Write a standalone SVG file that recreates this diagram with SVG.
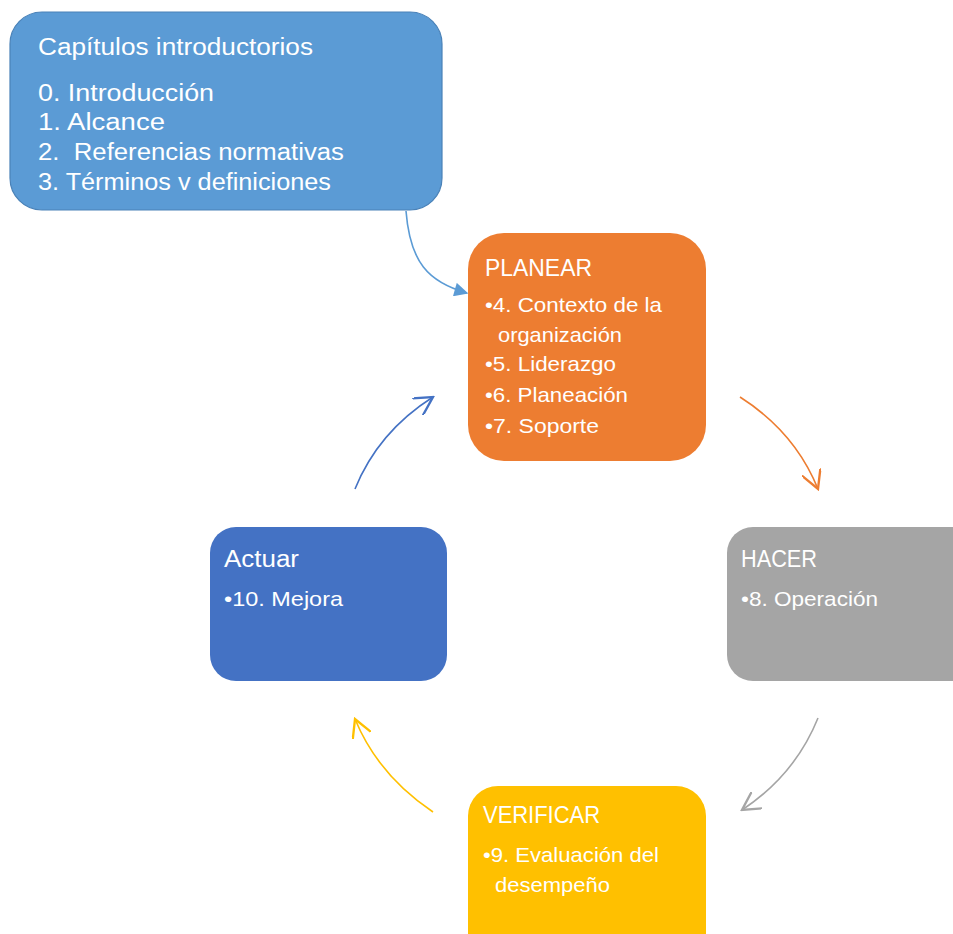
<svg xmlns="http://www.w3.org/2000/svg" width="953" height="934" viewBox="0 0 953 934">
  <defs>
    <style>
      .t { font-family: "Liberation Sans", "Noto Sans", sans-serif; fill: #ffffff; }
      .intro { font-size: 23px; }
      .h { font-size: 23px; }
      .b { font-size: 21px; }
      .link { fill: none; stroke-width: 1.6; }
    </style>
    <marker id="tri" viewBox="0 0 10 10" refX="9" refY="5" markerWidth="16" markerHeight="14" markerUnits="userSpaceOnUse" orient="auto">
      <path d="M0,0 L10,5 L0,10 z" fill="#5B9BD5"/>
    </marker>
    <marker id="vOrange" viewBox="0 0 12 12" refX="11" refY="6" markerWidth="20" markerHeight="20" markerUnits="userSpaceOnUse" orient="auto">
      <path d="M0,0 L11,6 L0,12" fill="none" stroke="#ED7D31" stroke-width="1.4"/>
    </marker>
    <marker id="vGray" viewBox="0 0 12 12" refX="11" refY="6" markerWidth="20" markerHeight="20" markerUnits="userSpaceOnUse" orient="auto">
      <path d="M0,0 L11,6 L0,12" fill="none" stroke="#A5A5A5" stroke-width="1.4"/>
    </marker>
    <marker id="vYellow" viewBox="0 0 12 12" refX="11" refY="6" markerWidth="20" markerHeight="20" markerUnits="userSpaceOnUse" orient="auto">
      <path d="M0,0 L11,6 L0,12" fill="none" stroke="#FFC000" stroke-width="1.4"/>
    </marker>
    <marker id="vBlue" viewBox="0 0 12 12" refX="11" refY="6" markerWidth="20" markerHeight="20" markerUnits="userSpaceOnUse" orient="auto">
      <path d="M0,0 L11,6 L0,12" fill="none" stroke="#4472C4" stroke-width="1.4"/>
    </marker>
  </defs>

  <rect width="953" height="934" fill="#ffffff"/>

  <!-- connectors -->
  <g id="connectors">
    <path class="link" stroke="#5B9BD5" d="M406,211 C410,262 428,282 467,293" marker-end="url(#tri)"/>
    <path class="link" stroke="#ED7D31" d="M740,397 Q795,432 818,489" marker-end="url(#vOrange)"/>
    <path class="link" stroke="#A5A5A5" d="M818,718 Q795,775 742,810" marker-end="url(#vGray)"/>
    <path class="link" stroke="#FFC000" d="M433,812 Q378,775 355,719" marker-end="url(#vYellow)"/>
    <path class="link" stroke="#4472C4" d="M355,489 Q378,432 433,397" marker-end="url(#vBlue)"/>
  </g>

  <!-- introductory chapters -->
  <g id="intro">
    <rect x="10" y="12" width="432" height="198" rx="32" fill="#5B9BD5" stroke="#4A82B8" stroke-width="1.2"/>
    <text class="t intro" x="38" y="55" textLength="275" lengthAdjust="spacingAndGlyphs">Capítulos introductorios</text>
    <text class="t intro" x="38" y="101" textLength="176" lengthAdjust="spacingAndGlyphs">0. Introducción</text>
    <text class="t intro" x="38" y="130" textLength="127" lengthAdjust="spacingAndGlyphs">1. Alcance</text>
    <text class="t intro" x="38" y="160" textLength="306" lengthAdjust="spacingAndGlyphs" xml:space="preserve">2.  Referencias normativas</text>
    <text class="t intro" x="38" y="190" textLength="293" lengthAdjust="spacingAndGlyphs">3. Términos v definiciones</text>
  </g>

  <!-- PLANEAR -->
  <g id="planear">
    <rect x="468" y="233" width="238" height="228" rx="36" fill="#ED7D31"/>
    <text class="t h" x="485" y="276" textLength="107" lengthAdjust="spacingAndGlyphs">PLANEAR</text>
    <text class="t b" x="485" y="312" textLength="177" lengthAdjust="spacingAndGlyphs">•4. Contexto de la</text>
    <text class="t b" x="498" y="342" textLength="124" lengthAdjust="spacingAndGlyphs">organización</text>
    <text class="t b" x="485" y="371" textLength="131" lengthAdjust="spacingAndGlyphs">•5. Liderazgo</text>
    <text class="t b" x="485" y="402" textLength="143" lengthAdjust="spacingAndGlyphs">•6. Planeación</text>
    <text class="t b" x="485" y="433" textLength="114" lengthAdjust="spacingAndGlyphs">•7. Soporte</text>
  </g>

  <!-- HACER -->
  <g id="hacer">
    <rect x="727" y="527" width="260" height="154" rx="26" fill="#A5A5A5"/>
    <text class="t h" x="741" y="567" textLength="76" lengthAdjust="spacingAndGlyphs">HACER</text>
    <text class="t b" x="741" y="606" textLength="137" lengthAdjust="spacingAndGlyphs">•8. Operación</text>
  </g>

  <!-- VERIFICAR -->
  <g id="verificar">
    <rect x="468" y="786" width="238" height="190" rx="30" fill="#FFC000"/>
    <text class="t h" x="483" y="823" textLength="117" lengthAdjust="spacingAndGlyphs">VERIFICAR</text>
    <text class="t b" x="483" y="862" textLength="176" lengthAdjust="spacingAndGlyphs">•9. Evaluación del</text>
    <text class="t b" x="495" y="892" textLength="115" lengthAdjust="spacingAndGlyphs">desempeño</text>
  </g>

  <!-- Actuar -->
  <g id="actuar">
    <rect x="210" y="527" width="237" height="154" rx="26" fill="#4472C4"/>
    <text class="t h" x="224" y="567" textLength="75" lengthAdjust="spacingAndGlyphs">Actuar</text>
    <text class="t b" x="224" y="606" textLength="119" lengthAdjust="spacingAndGlyphs">•10. Mejora</text>
  </g>
</svg>
